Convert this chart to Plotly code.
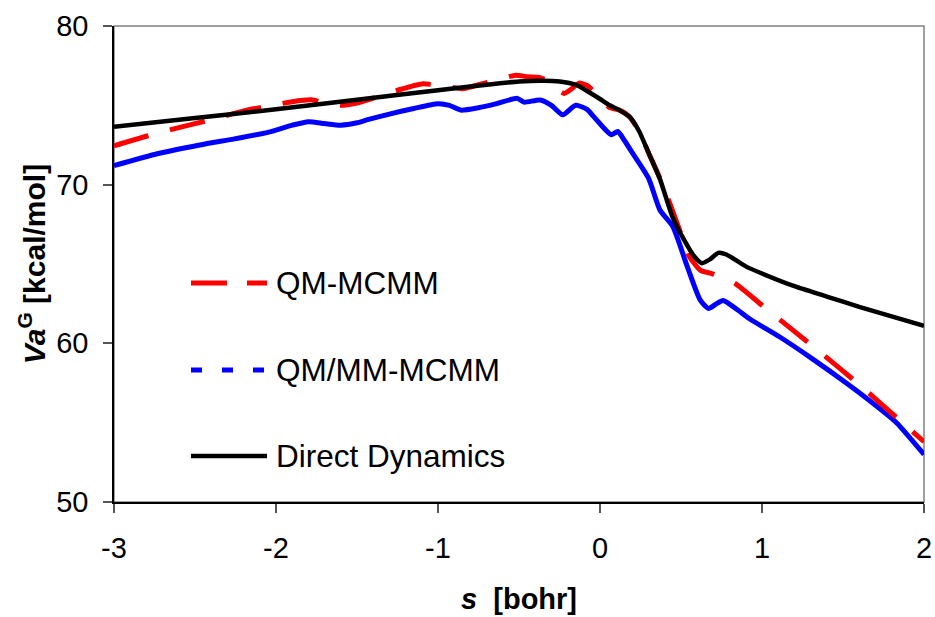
import plotly.graph_objects as go

# ---- data ----
dd_s = [-3.0, -2.5, -2.0, -1.5, -1.0, -0.7, -0.5, -0.35, -0.25, -0.15, -0.08, 0.0, 0.06,
        0.12, 0.18, 0.24, 0.3, 0.37, 0.45, 0.52, 0.58, 0.63, 0.68, 0.73, 0.78, 0.9, 1.0,
        1.2, 1.4, 1.6, 1.8, 2.0]
dd_v = [73.65, 74.2, 74.75, 75.35, 75.95, 76.3, 76.5, 76.55, 76.5, 76.3, 75.9, 75.4, 75.0,
        74.7, 74.3, 73.4, 72.0, 70.35, 67.9, 66.5, 65.5, 65.05, 65.3, 65.7, 65.6, 64.85, 64.4,
        63.6, 62.95, 62.3, 61.7, 61.1]

qm_s = [-3.0, -2.8, -2.6, -2.4, -2.2, -2.0, -1.85, -1.78, -1.7, -1.6, -1.5, -1.4, -1.25,
        -1.1, -0.95, -0.85, -0.75, -0.6, -0.52, -0.45, -0.37, -0.3, -0.25, -0.22, -0.18,
        -0.13, -0.08, 0.0, 0.06, 0.12, 0.18, 0.24, 0.3, 0.37, 0.43, 0.5, 0.55, 0.62, 0.69,
        0.83, 1.0, 1.2, 1.4, 1.6, 1.8, 2.0]
qm_v = [72.45, 73.05, 73.6, 74.1, 74.65, 75.05, 75.3, 75.35, 75.15, 75.0, 75.15, 75.45, 75.95,
        76.35, 76.2, 76.05, 76.3, 76.7, 76.9, 76.8, 76.75, 76.4, 75.9, 75.75, 76.0,
        76.4, 76.25, 75.5, 74.85, 74.7, 74.3, 73.4, 72.0, 70.4, 68.85, 66.9, 65.5, 64.6, 64.4,
        63.8, 62.4, 60.75, 59.1, 57.4, 55.6, 53.8]

qmmm_s = [-3.0, -2.75, -2.47, -2.25, -2.05, -1.9, -1.8, -1.7, -1.6, -1.5, -1.44, -1.3, -1.15,
          -1.0, -0.93, -0.86, -0.75, -0.63, -0.51, -0.47, -0.37, -0.3, -0.23, -0.15, -0.08,
          -0.04, 0.03, 0.07, 0.11, 0.15, 0.2, 0.3, 0.37, 0.45, 0.54, 0.62, 0.67, 0.72, 0.76,
          0.85, 0.93, 1.11, 1.3, 1.52, 1.7, 1.83, 2.0]
qmmm_v = [71.2, 71.9, 72.5, 72.9, 73.3, 73.75, 73.97, 73.85, 73.75, 73.9, 74.08, 74.45, 74.8,
          75.1, 75.0, 74.7, 74.85, 75.13, 75.44, 75.2, 75.34, 75.0, 74.4, 75.0, 74.75,
          74.3, 73.5, 73.15, 73.35, 72.8, 72.0, 70.4, 68.4, 67.35, 64.8, 62.7, 62.2, 62.5, 62.7,
          62.1, 61.5, 60.4, 59.1, 57.5, 56.1, 55.0, 53.0]

names = ["QM-MCMM", "QM/MM-MCMM", "Direct Dynamics"]
x_ticks = [-3, -2, -1, 0, 1, 2]
y_ticks = [50, 60, 70, 80]

FONT = "Arial, Liberation Sans, sans-serif"

fig = go.Figure()
fig.add_trace(go.Scatter(x=qmmm_s, y=qmmm_v, mode="lines", name=names[1],
                         line=dict(color="#0000FF", width=5, shape="spline", smoothing=0.6),
                         showlegend=False))
fig.add_trace(go.Scatter(x=qm_s, y=qm_v, mode="lines", name=names[0],
                         line=dict(color="#FF0000", width=5, dash="36px,22px",
                                   shape="spline", smoothing=0.6),
                         showlegend=False))
fig.add_trace(go.Scatter(x=dd_s, y=dd_v, mode="lines", name=names[2],
                         line=dict(color="#000000", width=4.5, shape="spline", smoothing=0.6),
                         showlegend=False))

# ---- custom legend (long line samples like the original) ----
W, H = 935, 617
ML, MR, MT, MB = 114, 11, 26, 115
L, R = ML, W - MR
T, B = MT, H - MB
def px(xp):
    return (xp - L) / (R - L)
def py(yp):
    return (B - yp) / (B - T)

legend_items = [
    (names[0], "#FF0000", 5, "36px,20px", 283),
    (names[1], "#0000FF", 5, "11px,20px", 370),
    (names[2], "#000000", 4.5, "solid", 456),
]
for name, col, w, dash, ypix in legend_items:
    fig.add_shape(type="line", xref="paper", yref="paper",
                  x0=px(191), x1=px(267), y0=py(ypix), y1=py(ypix),
                  line=dict(color=col, width=w, dash=dash))
    fig.add_annotation(xref="paper", yref="paper", x=px(274), y=py(ypix),
                       text=name, showarrow=False, xanchor="left", yanchor="middle",
                       font=dict(family=FONT, size=31.5, color="black"))

# gray frame top/right
fig.add_shape(type="rect", xref="paper", yref="paper", x0=0, x1=1, y0=0, y1=1,
              line=dict(color="#808080", width=1.5), layer="below")

fig.update_layout(
    width=W, height=H,
    margin=dict(l=ML, r=MR, t=MT, b=MB, autoexpand=False),
    paper_bgcolor="white", plot_bgcolor="white",
    font=dict(family=FONT, size=29, color="black"),
    xaxis=dict(range=[-3, 2], tickvals=x_ticks, ticktext=[str(v) for v in x_ticks],
               automargin=False, ticklabeloverflow="allow",
               showgrid=False, zeroline=False, showline=True, linecolor="black", linewidth=1.5,
               ticks="outside", ticklen=9, tickcolor="#555555", tickwidth=1.5,
               ticklabelstandoff=10,
               tickfont=dict(family=FONT, size=29, color="black"),
               title=dict(text="<b><i>s</i>  [bohr]</b>", font=dict(family=FONT, size=29),
                          standoff=26)),
    yaxis=dict(range=[50, 80], tickvals=y_ticks, ticktext=[str(v) for v in y_ticks],
               automargin=False, ticklabeloverflow="allow",
               showgrid=False, zeroline=False, showline=True, linecolor="black", linewidth=1.5,
               ticks="outside", ticklen=9, tickcolor="#555555", tickwidth=1.5,
               ticklabelstandoff=9,
               tickfont=dict(family=FONT, size=29, color="black"),
               title=dict(text="<b><i>Va</i><sup>G</sup> [kcal/mol]</b>",
                          font=dict(family=FONT, size=30), standoff=2)),
)

fig.write_html("out.html",
               config={"displayModeBar": False},
               post_script="document.body.style.margin='0px';"
                           "document.body.style.overflow='hidden';")
